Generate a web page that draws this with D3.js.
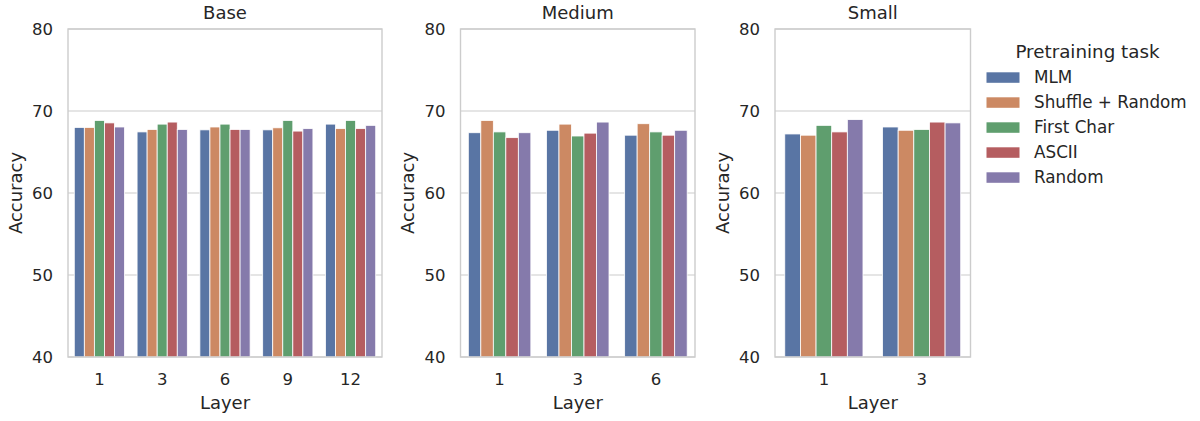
<!DOCTYPE html>
<html><head><meta charset="utf-8">
<script src="https://cdn.jsdelivr.net/npm/d3@7"></script>
<style>
html,body{margin:0;padding:0;background:#fff;}
text{font-family:"DejaVu Sans",sans-serif;fill:#262626;}
</style></head>
<body><svg id="c" width="1200" height="421"></svg>
<script>
const tasks = ["MLM", "Shuffle + Random", "First Char", "ASCII", "Random"];
const colors = ["#5975a4", "#cc8963", "#5f9e6e", "#b55d60", "#857aab"];
const yTicks = [40, 50, 60, 70, 80];

const baseLayers = ["1", "3", "6", "9", "12"];
const baseValues = [
  [68.0, 68.0, 68.85, 68.55, 68.05],
  [67.45, 67.75, 68.4, 68.65, 67.75],
  [67.7, 68.05, 68.4, 67.75, 67.75],
  [67.7, 67.95, 68.85, 67.55, 67.85],
  [68.4, 67.85, 68.85, 67.85, 68.25]
];
const mediumLayers = ["1", "3", "6"];
const mediumValues = [
  [67.35, 68.85, 67.45, 66.75, 67.35],
  [67.65, 68.4, 66.95, 67.3, 68.65],
  [67.05, 68.45, 67.45, 67.05, 67.65]
];
const smallLayers = ["1", "3"];
const smallValues = [
  [67.2, 67.05, 68.25, 67.45, 68.95],
  [68.05, 67.65, 67.75, 68.65, 68.55]
];

const panels = [
  {title: "Base", layers: baseLayers, values: baseValues, x0: 68, x1: 382},
  {title: "Medium", layers: mediumLayers, values: mediumValues, x0: 460.5, x1: 695},
  {title: "Small", layers: smallLayers, values: smallValues, x0: 775, x1: 970.5}
];

(function () {
const svg = d3.select("#c");
const yTop = 29, yBottom = 357;
const y = d3.scaleLinear().domain([40, 80]).range([yBottom, yTop]);
const grey = "#cccccc";
const tickFs = 16.5, labelFs = 18;

panels.forEach(p => {
  const g = svg.append("g");
  const x = d3.scaleBand().domain(p.layers).range([p.x0, p.x1]).paddingInner(0.2).paddingOuter(0.1);
  const xi = d3.scaleBand().domain(tasks).range([0, x.bandwidth()]);
  g.selectAll("line.grid").data(yTicks).join("line")
    .attr("x1", p.x0).attr("x2", p.x1)
    .attr("y1", d => y(d)).attr("y2", d => y(d))
    .attr("stroke", grey).attr("stroke-width", 1.1);
  p.layers.forEach((layer, li) => {
    g.selectAll(null).data(p.values[li]).join("rect")
      .attr("x", (d, i) => x(layer) + xi(tasks[i]))
      .attr("width", xi.bandwidth())
      .attr("y", d => y(d))
      .attr("height", d => y(40) - y(d))
      .attr("fill", (d, i) => colors[i])
      .attr("stroke", "#fff").attr("stroke-width", 0.8);
  });
  g.append("rect").attr("x", p.x0).attr("y", yTop).attr("width", p.x1 - p.x0).attr("height", yBottom - yTop)
    .attr("fill", "none").attr("stroke", grey).attr("stroke-width", 1.4);
  const ya = d3.axisLeft(y).tickValues(yTicks).tickSize(0).tickPadding(15);
  const yg = g.append("g").attr("transform", `translate(${p.x0},0)`).call(ya);
  yg.select(".domain").remove();
  yg.selectAll("text").attr("font-size", tickFs).attr("fill", "#262626").attr("font-family", "DejaVu Sans");
  const xa = d3.axisBottom(x).tickSize(0).tickPadding(16.5);
  const xg = g.append("g").attr("transform", `translate(0,${yBottom})`).call(xa);
  xg.select(".domain").remove();
  xg.selectAll("text").attr("font-size", tickFs).attr("fill", "#262626").attr("font-family", "DejaVu Sans");
  g.append("text").attr("x", (p.x0 + p.x1) / 2).attr("y", 19).attr("text-anchor", "middle")
    .attr("font-size", labelFs).text(p.title);
  g.append("text").attr("x", (p.x0 + p.x1) / 2).attr("y", 409).attr("text-anchor", "middle")
    .attr("font-size", labelFs).text("Layer");
  g.append("text").attr("transform", `translate(${p.x0 - 46.5},${(yTop + yBottom) / 2}) rotate(-90)`)
    .attr("text-anchor", "middle").attr("font-size", labelFs).text("Accuracy");
});

const lg = svg.append("g");
lg.append("text").attr("x", 1087.5).attr("y", 58).attr("text-anchor", "middle").attr("font-size", 18.3).text("Pretraining task");
tasks.forEach((t, i) => {
  const cy = 77.3 + i * 25;
  lg.append("rect").attr("x", 986.5).attr("y", cy - 5).attr("width", 33).attr("height", 10.5).attr("fill", colors[i]);
  lg.append("text").attr("x", 1034).attr("y", cy + 6).attr("font-size", 16.8).text(t);
});
})();
</script></body></html>
